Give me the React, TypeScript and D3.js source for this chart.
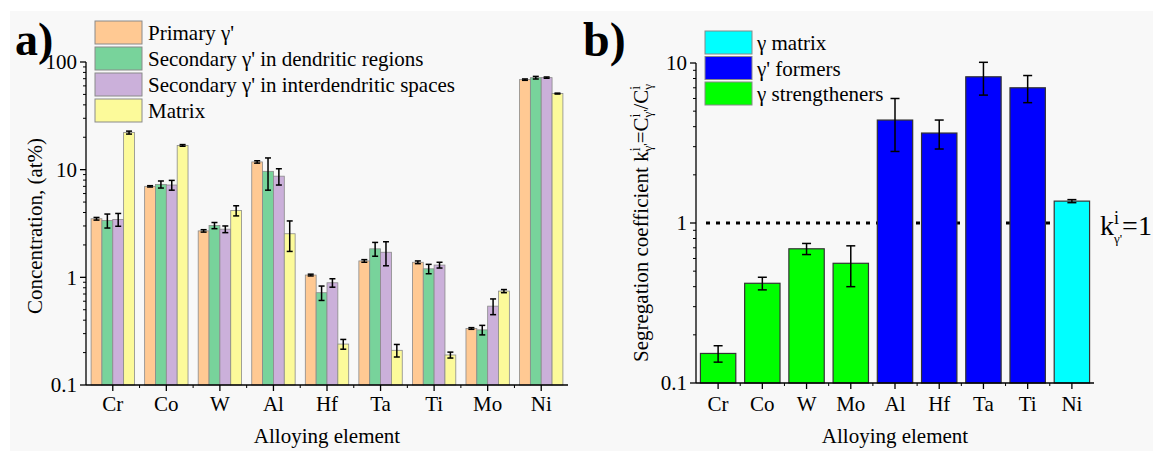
import React from "react";
import * as d3 from "d3";

const elementsA = ["Cr", "Co", "W", "Al", "Hf", "Ta", "Ti", "Mo", "Ni"];
const seriesNamesA = [
  "Primary γ'",
  "Secondary γ' in dendritic regions",
  "Secondary γ' in interdendritic spaces",
  "Matrix",
];
const primary = [3.5, 7.0, 2.7, 11.8, 1.05, 1.42, 1.38, 0.335, 68.6];
const primaryErr = [0.1, 0.1, 0.07, 0.3, 0.02, 0.04, 0.04, 0.006, 1.0];
const secDend = [3.37, 7.3, 3.03, 9.65, 0.72, 1.84, 1.2, 0.325, 71.5];
const secDendErr = [0.5, 0.55, 0.2, 3.2, 0.11, 0.27, 0.12, 0.033, 2.0];
const secInter = [3.45, 7.2, 2.8, 8.7, 0.89, 1.71, 1.3, 0.54, 71.6];
const secInterErr = [0.47, 0.75, 0.2, 1.5, 0.08, 0.43, 0.08, 0.09, 1.0];
const matrix = [22.1, 16.8, 4.17, 2.54, 0.24, 0.21, 0.19, 0.745, 50.9];
const matrixErr = [0.7, 0.3, 0.45, 0.8, 0.025, 0.028, 0.012, 0.025, 0.5];
const yTicksA = [0.1, 1, 10, 100];
const yTickLabelsA = ["0.1", "1", "10", "100"];

const elementsB = ["Cr", "Co", "W", "Mo", "Al", "Hf", "Ta", "Ti", "Ni"];
const kValues = [0.153, 0.42, 0.69, 0.56, 4.4, 3.65, 8.2, 7.0, 1.37];
const kErr = [0.018, 0.038, 0.055, 0.16, 1.6, 0.75, 1.9, 1.35, 0.03];
const kGroup = ["s", "s", "s", "s", "f", "f", "f", "f", "m"];
const legendB = [
  { key: "m", label: "γ matrix" },
  { key: "f", label: "γ' formers" },
  { key: "s", label: "γ strengtheners" },
];
const yTicksB = [0.1, 1, 10];
const yTickLabelsB = ["0.1", "1", "10"];

const colorsA = ["#FFC993", "#78D39B", "#CBB0DA", "#FCFA9A"];
const colorsB: Record<string, string> = { m: "#00FFFF", f: "#0000FF", s: "#00FF00" };

const FONT = "Liberation Serif, Times New Roman, serif";
const FS = 21;

function minorTicks(domain: [number, number]) {
  const out: number[] = [];
  for (let e = Math.log10(domain[0]); e < Math.log10(domain[1]) - 1e-9; e++) {
    const base = Math.pow(10, e);
    for (let m = 2; m <= 9; m++) out.push(base * m);
  }
  return out;
}

function ErrorBar({ x, y1, y2, cap, sw }: { x: number; y1: number; y2: number; cap: number; sw: number }) {
  return (
    <g stroke="#000" strokeWidth={sw}>
      <line x1={x} x2={x} y1={y1} y2={y2} />
      <line x1={x - cap / 2} x2={x + cap / 2} y1={y1} y2={y1} />
      <line x1={x - cap / 2} x2={x + cap / 2} y1={y2} y2={y2} />
    </g>
  );
}

function ChartA() {
  const x0 = 86, x1 = 568, yT = 62, yB = 385;
  const x = d3.scaleBand<string>().domain(elementsA).range([x0, x1]).paddingInner(0.19).paddingOuter(0.095);
  const xi = d3.scaleBand<number>().domain([0, 1, 2, 3]).range([0, x.bandwidth()]);
  const y = d3.scaleLog().domain([0.1, 100]).range([yB, yT]);
  const series = [primary, secDend, secInter, matrix];
  const errs = [primaryErr, secDendErr, secInterErr, matrixErr];
  const step = x.step();
  return (
    <g>
      {series.map((vals, si) =>
        vals.map((v, i) => {
          const bx = (x(elementsA[i]) as number) + (xi(si) as number);
          return (
            <rect key={`b${si}-${i}`} x={bx} y={y(v)} width={xi.bandwidth()} height={yB - y(v)}
              fill={colorsA[si]} stroke="#8a8a8a" strokeWidth={0.8} />
          );
        })
      )}
      {series.map((vals, si) =>
        vals.map((v, i) => {
          const cx = (x(elementsA[i]) as number) + (xi(si) as number) + xi.bandwidth() / 2;
          const e = errs[si][i];
          return <ErrorBar key={`e${si}-${i}`} x={cx} y1={y(v + e)} y2={y(Math.max(v - e, 0.101))} cap={6} sw={1.5} />;
        })
      )}
      <line x1={x0} x2={x0} y1={yT} y2={yB} stroke="#000" strokeWidth={1.3} />
      <line x1={x0} x2={x1} y1={yB} y2={yB} stroke="#000" strokeWidth={1.3} />
      {yTicksA.map((t, i) => (
        <g key={`yt${i}`}>
          <line x1={x0 - 6} x2={x0} y1={y(t)} y2={y(t)} stroke="#000" strokeWidth={1.3} />
          <text x={x0 - 9} y={y(t)} dy="0.35em" textAnchor="end" fontSize={FS}>{yTickLabelsA[i]}</text>
        </g>
      ))}
      {minorTicks([0.1, 100]).map((t, i) => (
        <line key={`ym${i}`} x1={x0 - 3} x2={x0} y1={y(t)} y2={y(t)} stroke="#000" strokeWidth={1} />
      ))}
      {elementsA.map((e, i) => {
        const cx = (x(e) as number) + x.bandwidth() / 2;
        return (
          <g key={`xt${i}`}>
            <line x1={cx} x2={cx} y1={yB} y2={yB + 6} stroke="#000" strokeWidth={1.3} />
            <text x={cx} y={411} textAnchor="middle" fontSize={FS}>{e}</text>
          </g>
        );
      })}
      {d3.range(1, elementsA.length).map((i) => (
        <line key={`xm${i}`} x1={x0 + i * step} x2={x0 + i * step} y1={yB} y2={yB + 3} stroke="#000" strokeWidth={1} />
      ))}
      <text x={(x0 + x1) / 2} y={443} textAnchor="middle" fontSize={FS}>Alloying element</text>
      <text transform={`translate(42,226) rotate(-90)`} textAnchor="middle" fontSize={FS}>
        Concentration, (at%)
      </text>
      {seriesNamesA.map((n, i) => (
        <g key={`lg${i}`}>
          <rect x={95} y={21 + i * 26} width={47} height={23} fill={colorsA[i]} stroke="#8a8a8a" strokeWidth={1} />
          <text x={148} y={21 + i * 26 + 12} dy="0.35em" fontSize={FS}>{n}</text>
        </g>
      ))}
      <text x={15} y={55} fontSize={46} fontWeight="bold">a)</text>
    </g>
  );
}

function ChartB() {
  const x0 = 696, x1 = 1094, yT = 63, yB = 383;
  const x = d3.scaleBand<string>().domain(elementsB).range([x0, x1]).paddingInner(0.2).paddingOuter(0.1);
  const y = d3.scaleLog().domain([0.1, 10]).range([yB, yT]);
  const step = x.step();
  return (
    <g>
      <line x1={x0 + 10} x2={1062} y1={y(1)} y2={y(1)} stroke="#000" strokeWidth={3} strokeDasharray="4 6" />
      {kValues.map((v, i) => (
        <rect key={`kb${i}`} x={x(elementsB[i]) as number} y={y(v)} width={x.bandwidth()} height={yB - y(v)}
          fill={colorsB[kGroup[i]]} stroke="#333" strokeWidth={1.2} />
      ))}
      {kValues.map((v, i) => {
        const cx = (x(elementsB[i]) as number) + x.bandwidth() / 2;
        return <ErrorBar key={`ke${i}`} x={cx} y1={y(v + kErr[i])} y2={y(v - kErr[i])} cap={9} sw={1.5} />;
      })}
      <line x1={x0} x2={x0} y1={yT} y2={yB} stroke="#000" strokeWidth={1.3} />
      <line x1={x0} x2={x1} y1={yB} y2={yB} stroke="#000" strokeWidth={1.3} />
      {yTicksB.map((t, i) => (
        <g key={`yt${i}`}>
          <line x1={x0 - 6} x2={x0} y1={y(t)} y2={y(t)} stroke="#000" strokeWidth={1.3} />
          <text x={x0 - 9} y={y(t)} dy="0.35em" textAnchor="end" fontSize={FS}>{yTickLabelsB[i]}</text>
        </g>
      ))}
      {minorTicks([0.1, 10]).map((t, i) => (
        <line key={`ym${i}`} x1={x0 - 3} x2={x0} y1={y(t)} y2={y(t)} stroke="#000" strokeWidth={1} />
      ))}
      {elementsB.map((e, i) => {
        const cx = (x(e) as number) + x.bandwidth() / 2;
        return (
          <g key={`xt${i}`}>
            <line x1={cx} x2={cx} y1={yB} y2={yB + 6} stroke="#000" strokeWidth={1.3} />
            <text x={cx} y={411} textAnchor="middle" fontSize={FS}>{e}</text>
          </g>
        );
      })}
      {d3.range(1, elementsB.length).map((i) => (
        <line key={`xm${i}`} x1={x0 + i * step} x2={x0 + i * step} y1={yB} y2={yB + 3} stroke="#000" strokeWidth={1} />
      ))}
      <text x={(x0 + x1) / 2} y={443} textAnchor="middle" fontSize={FS}>Alloying element</text>
      <text transform={`translate(648,223) rotate(-90)`} textAnchor="middle" fontSize={FS}>
        Segregation coefficient k<tspan dy={-8} fontSize={14}>i</tspan>
        <tspan dx={-4} dy={12} fontSize={13}>γ'</tspan>
        <tspan dy={-4}>=C</tspan>
        <tspan dy={-8} fontSize={14}>i</tspan>
        <tspan dx={-4} dy={12} fontSize={13}>γ'</tspan>
        <tspan dy={-4}>/C</tspan>
        <tspan dy={-8} fontSize={14}>i</tspan>
        <tspan dx={-4} dy={12} fontSize={13}>γ</tspan>
      </text>
      {legendB.map((l, i) => (
        <g key={`lb${i}`}>
          <rect x={705} y={31 + i * 25.5} width={47} height={23} fill={colorsB[l.key]} stroke="#888" strokeWidth={1} />
          <text x={757} y={31 + i * 25.5 + 12} dy="0.35em" fontSize={FS}>{l.label}</text>
        </g>
      ))}
      <text x={1100} y={235} fontSize={28}>
        k<tspan dy={-11} fontSize={18}>i</tspan>
        <tspan dx={-5} dy={19} fontSize={13}>γ'</tspan>
        <tspan dy={-8}>=1</tspan>
      </text>
      <text x={583} y={56} fontSize={48} fontWeight="bold">b)</text>
    </g>
  );
}

export default function App() {
  return (
    <svg width={1153} height={451} style={{ position: "absolute", left: 0, top: 0 }} fontFamily={FONT}>
      <rect x={0} y={0} width={1153} height={451} fill="#ffffff" />
      <rect x={10} y={11} width={1143} height={440} fill="#f8f8f8" />
      <ChartA />
      <ChartB />
    </svg>
  );
}
